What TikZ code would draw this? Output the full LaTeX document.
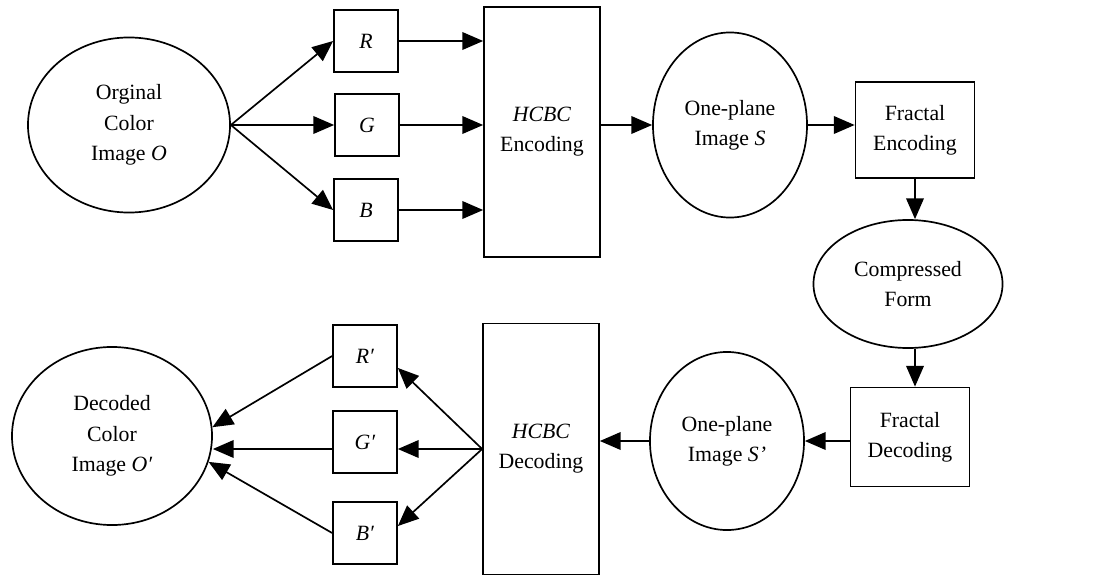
\documentclass[tikz,border=0pt]{standalone}
\usepackage{fontspec}
\setmainfont{Liberation Serif}
\usetikzlibrary{shapes.geometric,arrows.meta}

\begin{document}
\begin{tikzpicture}[
  x=0.025cm, y=-0.025cm,
  font=\fontsize{15.5}{21.5}\selectfont,
  line width=1.2pt,
  box/.style={draw, inner sep=0pt, align=center},
  oval/.style={draw, ellipse, inner sep=0pt, align=center},
  chan/.style={box, minimum width=1.6cm, minimum height=1.55cm},
  arr/.style={-{Triangle[length=0.52cm,width=0.44cm]}}]

\useasboundingbox (0,0) rectangle (1099,578);

% Encoder (upper row)
\node[oval, minimum width=5.05cm, minimum height=4.375cm] (orig) at (129,125) {Orginal\\Color\\Image \textit{O}};
\node[chan] (r) at (366,41) {\textit{R}};
\node[chan] (g) at (367,125) {\textit{G}};
\node[chan] (b) at (366,210) {\textit{B}};
\node[box, minimum width=2.9cm, minimum height=6.25cm] (enc) at (542,132) {\textit{HCBC}\\Encoding};
\node[oval, minimum width=3.85cm, minimum height=4.625cm] (s) at (730,125) {One-plane\\Image \textit{S}};
\node[box, minimum width=2.975cm, minimum height=2.4cm] (fenc) at (915,130) {Fractal\\Encoding};

% Compressed form
\node[oval, minimum width=4.725cm, minimum height=3.2cm] (comp) at (908,284) {Compressed\\Form};

% Decoder (lower row)
\node[box, minimum width=2.975cm, minimum height=2.475cm] (fdec) at (910,437) {Fractal\\Decoding};
\node[oval, minimum width=3.85cm, minimum height=4.45cm] (sp) at (727,441) {One-plane\\Image \textit{S'}};
\node[box, minimum width=2.9cm, minimum height=6.275cm] (dec) at (541,449) {\textit{HCBC}\\Decoding};
\node[chan] (rp) at (365,356) {\textit{R′}};
\node[chan] (gp) at (365,442) {\textit{G′}};
\node[chan] (bp) at (365,533) {\textit{B′}};
\node[oval, minimum width=5cm, minimum height=4.45cm] (dcol) at (112,436) {Decoded\\Color\\Image \textit{O′}};

% Connectors
\draw[arr] (orig.east) -- (r.west);
\draw[arr] (orig.east) -- (g.west);
\draw[arr] (orig.east) -- (b.west);
\draw[arr] (r.east) -- (r.east -| enc.west);
\draw[arr] (g.east) -- (g.east -| enc.west);
\draw[arr] (b.east) -- (b.east -| enc.west);
\draw[arr] (enc.east |- s.west) -- (s.west);
\draw[arr] (s.east) -- (s.east -| fenc.west);
\draw[arr] (fenc.south) -- (fenc.south |- comp.north);
\draw[arr] (fenc.south |- comp.south) -- (fenc.south |- fdec.north);
\draw[arr] (fdec.west |- sp.east) -- (sp.east);
\draw[arr] (sp.west) -- (sp.west -| dec.east);
\draw[arr] (dec.west) -- (rp.-20);
\draw[arr] (dec.west) -- (dec.west -| gp.east);
\draw[arr] (dec.west) -- (bp.12);
\draw[arr] (rp.west) -- (dcol.5);
\draw[arr] (gp.west |- dec.west) -- (dec.west -| dcol.east);
\draw[arr] (bp.west) -- (dcol.-15);

\end{tikzpicture}
\end{document}
